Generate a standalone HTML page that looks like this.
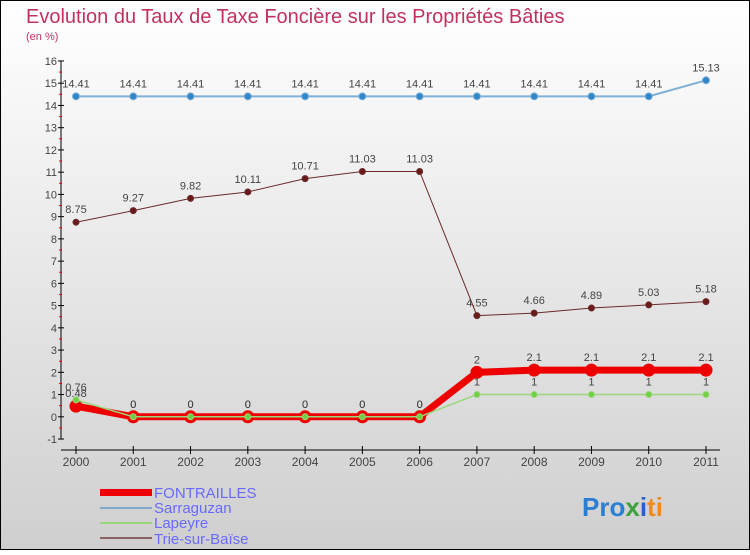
<!DOCTYPE html>
<html><head><meta charset="utf-8"><style>
body{margin:0;width:750px;height:550px;overflow:hidden;font-family:"Liberation Sans",sans-serif}
svg text{font-family:"Liberation Sans",sans-serif}
</style></head><body>
<svg id="c" width="750" height="550" xmlns="http://www.w3.org/2000/svg">
<defs><linearGradient id="bg" x1="0" y1="0" x2="0" y2="1"><stop offset="0" stop-color="#ffffff"/><stop offset="1" stop-color="#cfcfcf"/></linearGradient></defs>
<rect x="0.5" y="0.5" width="749" height="549" fill="url(#bg)" stroke="#000"/>
<text x="26" y="23" font-size="20" fill="#c0325e">Evolution du Taux de Taxe Foncière sur les Propriétés Bâties</text>
<text x="26" y="40" font-size="11" fill="#c0325e">(en %)</text>
<g id="axes"></g><g id="series"></g>
<g>
<rect x="100" y="489" width="52" height="7" fill="#e00"/>
<text x="154" y="498" font-size="15" fill="#6a6aff">FONTRAILLES</text>
<line x1="100" y1="508" x2="152" y2="508" stroke="#7fa9c9" stroke-width="2"/>
<text x="154" y="513" font-size="15" fill="#6a6aff">Sarraguzan</text>
<line x1="100" y1="523" x2="152" y2="523" stroke="#9ad77a" stroke-width="2"/>
<text x="154" y="528" font-size="15" fill="#6a6aff">Lapeyre</text>
<line x1="100" y1="538" x2="152" y2="538" stroke="#8b6262" stroke-width="2"/>
<text x="154" y="544" font-size="15" fill="#6a6aff">Trie-sur-Baïse</text>
</g>
<text x="582" y="516" font-size="26" font-weight="bold"><tspan fill="#2a7fd4">Pro</tspan><tspan fill="#3aa43a">x</tspan><tspan fill="#2a5fd4">i</tspan><tspan fill="#f08a1a">ti</tspan></text>
</svg>
<script>
const years=[2000,2001,2002,2003,2004,2005,2006,2007,2008,2009,2010,2011];
const yTicks=[-1,0,1,2,3,4,5,6,7,8,9,10,11,12,13,14,15,16];
const sarraguzan=[14.41,14.41,14.41,14.41,14.41,14.41,14.41,14.41,14.41,14.41,14.41,15.13];
const trie=[8.75,9.27,9.82,10.11,10.71,11.03,11.03,4.55,4.66,4.89,5.03,5.18];
const lapeyre=[0.76,0,0,0,0,0,0,1,1,1,1,1];
const fontrailles=[0.48,0,0,0,0,0,0,2,2.1,2.1,2.1,2.1];
const NS="http://www.w3.org/2000/svg";
function X(i){return 76+i*(630/11);}
function Y(v){return 416.8-v*22.24;}
function mk(p,t,a){const e=document.createElementNS(NS,t);for(const k in a)e.setAttribute(k,a[k]);p.appendChild(e);return e;}
const ax=document.getElementById('axes'),sg=document.getElementById('series');
let l=mk(ax,'line',{x1:61,y1:Y(16),x2:61,y2:Y(-1),stroke:'#000'});


l=mk(ax,'line',{x1:61,y1:450,x2:720,y2:450,stroke:'#000'});


yTicks.forEach(v=>{
 mk(ax,'line',{x1:58,y1:Y(v),x2:64,y2:Y(v),stroke:'#000'});
 if(v<16)mk(ax,'line',{x1:59,y1:Y(v+0.5),x2:62,y2:Y(v+0.5),stroke:'#e00'});
 const t=mk(ax,'text',{x:57,y:Y(v)+4,'font-size':11,fill:'#444','text-anchor':'end'});t.textContent=v;
 
 
});
years.forEach((y,i)=>{
 mk(ax,'line',{x1:X(i),y1:446,x2:X(i),y2:454,stroke:'#000'});
 const t=mk(ax,'text',{x:X(i),y:466,'font-size':12,fill:'#444','text-anchor':'middle'});t.textContent=y;
 
 
});
function series(name,vals,color,dot,w,r,labels){
 const g=mk(sg,'g',{});
 
 
 mk(g,'polyline',{points:vals.map((v,i)=>X(i)+','+Y(v)).join(' '),fill:'none',stroke:color,'stroke-width':w});
 vals.forEach((v,i)=>{
  const c=mk(g,'circle',{cx:X(i),cy:Y(v),r:r,fill:dot,stroke:color,'stroke-width':1});
  
  
  if(labels){const t=mk(g,'text',{x:X(i),y:Y(v)-9,'font-size':11,fill:'#444','text-anchor':'middle'});t.textContent=v;
  
  }
 });
}
series('sarraguzan',sarraguzan,'#7fb0d8','#2f86c8',2,3.5,true);
series('trie',trie,'#6b2a2a','#6b1a1a',1,3,true);
series('fontrailles',fontrailles,'#ee0000','#ee0000',7,6,true);
series('lapeyre',lapeyre,'#9ad77a','#6fd040',1.5,3,true);
</script>
</body></html>
